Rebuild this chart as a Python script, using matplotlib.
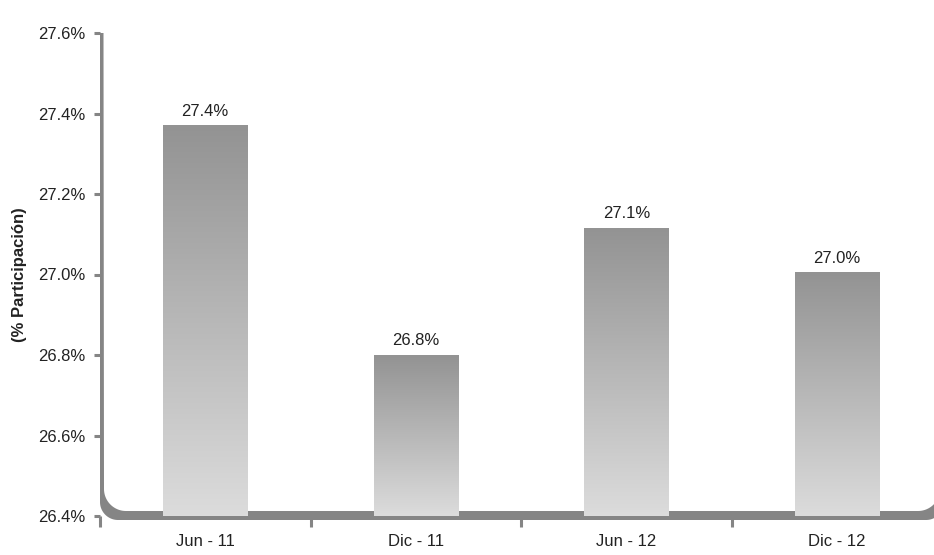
import numpy as np
import matplotlib.pyplot as plt
from matplotlib.colors import LinearSegmentedColormap
from matplotlib.patches import Polygon

# Data
categories = ['Jun - 11', 'Dic - 11', 'Jun - 12', 'Dic - 12']
values = [27.37, 26.80, 27.115, 27.005]
value_labels = ['27.4%', '26.8%', '27.1%', '27.0%']
y_ticks = [26.4, 26.6, 26.8, 27.0, 27.2, 27.4, 27.6]

plt.rcParams['font.family'] = ['Liberation Sans Narrow', 'Liberation Sans', 'DejaVu Sans']

W, H = 934, 555
fig = plt.figure(figsize=(W / 100, H / 100), dpi=100)

# axes placed in pixels: x from 100 to 942, y from 26.4 (px 516) to 27.6 (px 33)
left_px, right_px, bot_px, top_px = 100, 942, 516, 33
ax = fig.add_axes([left_px / W, (H - bot_px) / H,
                   (right_px - left_px) / W, (bot_px - top_px) / H])

ymin, ymax = 26.4, 27.6
xmin, xmax = -0.5, 3.5
axis_col = '#858585'
text_col = '#222222'
fs = 12

# gradient bars
cmap = LinearSegmentedColormap.from_list('bar', ['#dcdcdc', '#939393'])
grad = np.linspace(0, 1, 256).reshape(-1, 1)
bar_w = 0.4
x = np.arange(len(categories))
for xi, v, lab in zip(x, values, value_labels):
    ax.imshow(grad, extent=[xi - bar_w / 2, xi + bar_w / 2, ymin, v],
              aspect='auto', cmap=cmap, origin='lower', zorder=3)
    ax.annotate(lab, (xi, v), xytext=(0, 5), textcoords='offset points',
                ha='center', va='bottom', fontsize=fs, color=text_col)

ax.set_xlim(xmin, xmax)
ax.set_ylim(ymin, ymax)

for s in ax.spines.values():
    s.set_visible(False)

# custom axis frame: thin left line, thick bottom line, rounded corners
px_x = (xmax - xmin) / (right_px - left_px)
px_y = (ymax - ymin) / (bot_px - top_px)


def to_data(px, py):
    return xmin + (px - left_px) * px_x, ymin + (bot_px - py) * px_y


def arc_pts(cx, cy, rad, t0, t1, n=30):
    t = np.linspace(t0, t1, n)
    return list(zip(cx + rad * np.cos(t), cy - rad * np.sin(t)))


pts = [(100, 33), (100, 502)]
pts += arc_pts(118, 502, 18, np.pi, 1.5 * np.pi)          # outer left corner
pts += [(926, 520)]
pts += arc_pts(926, 502, 18, 1.5 * np.pi, 2 * np.pi)      # outer right corner
pts += [(944, 470), (940, 470), (940, 489)]
pts += arc_pts(918, 489, 22, 2 * np.pi, 1.5 * np.pi)      # inner right corner
pts += [(126, 511)]
pts += arc_pts(126, 489, 22, 1.5 * np.pi, np.pi)          # inner left corner
pts += [(103.5, 33)]
frame = Polygon([to_data(px, py) for px, py in pts], closed=True,
                facecolor=axis_col, edgecolor='none', clip_on=False, zorder=2)
ax.add_patch(frame)

# y ticks
ax.set_yticks(y_ticks)
ax.set_yticklabels([f'{t:.1f}%' for t in y_ticks])
ax.tick_params(axis='y', length=4.5, width=2.2, color=axis_col, pad=6,
               labelsize=fs, labelcolor=text_col)

# x ticks: labels at bar centers, marks at the boundaries
ax.set_xticks(x)
ax.set_xticklabels(categories)
ax.set_xticks([-0.5, 0.5, 1.5, 2.5], minor=True)
ax.tick_params(axis='x', which='major', length=0, pad=13,
               labelsize=fs, labelcolor=text_col)
ax.tick_params(axis='x', which='minor', length=8, width=2.2, color=axis_col)

ax.set_ylabel('(% Participación)', fontsize=fs, fontweight='bold',
              color=text_col, labelpad=8)

fig.savefig('out.png', dpi=100)
